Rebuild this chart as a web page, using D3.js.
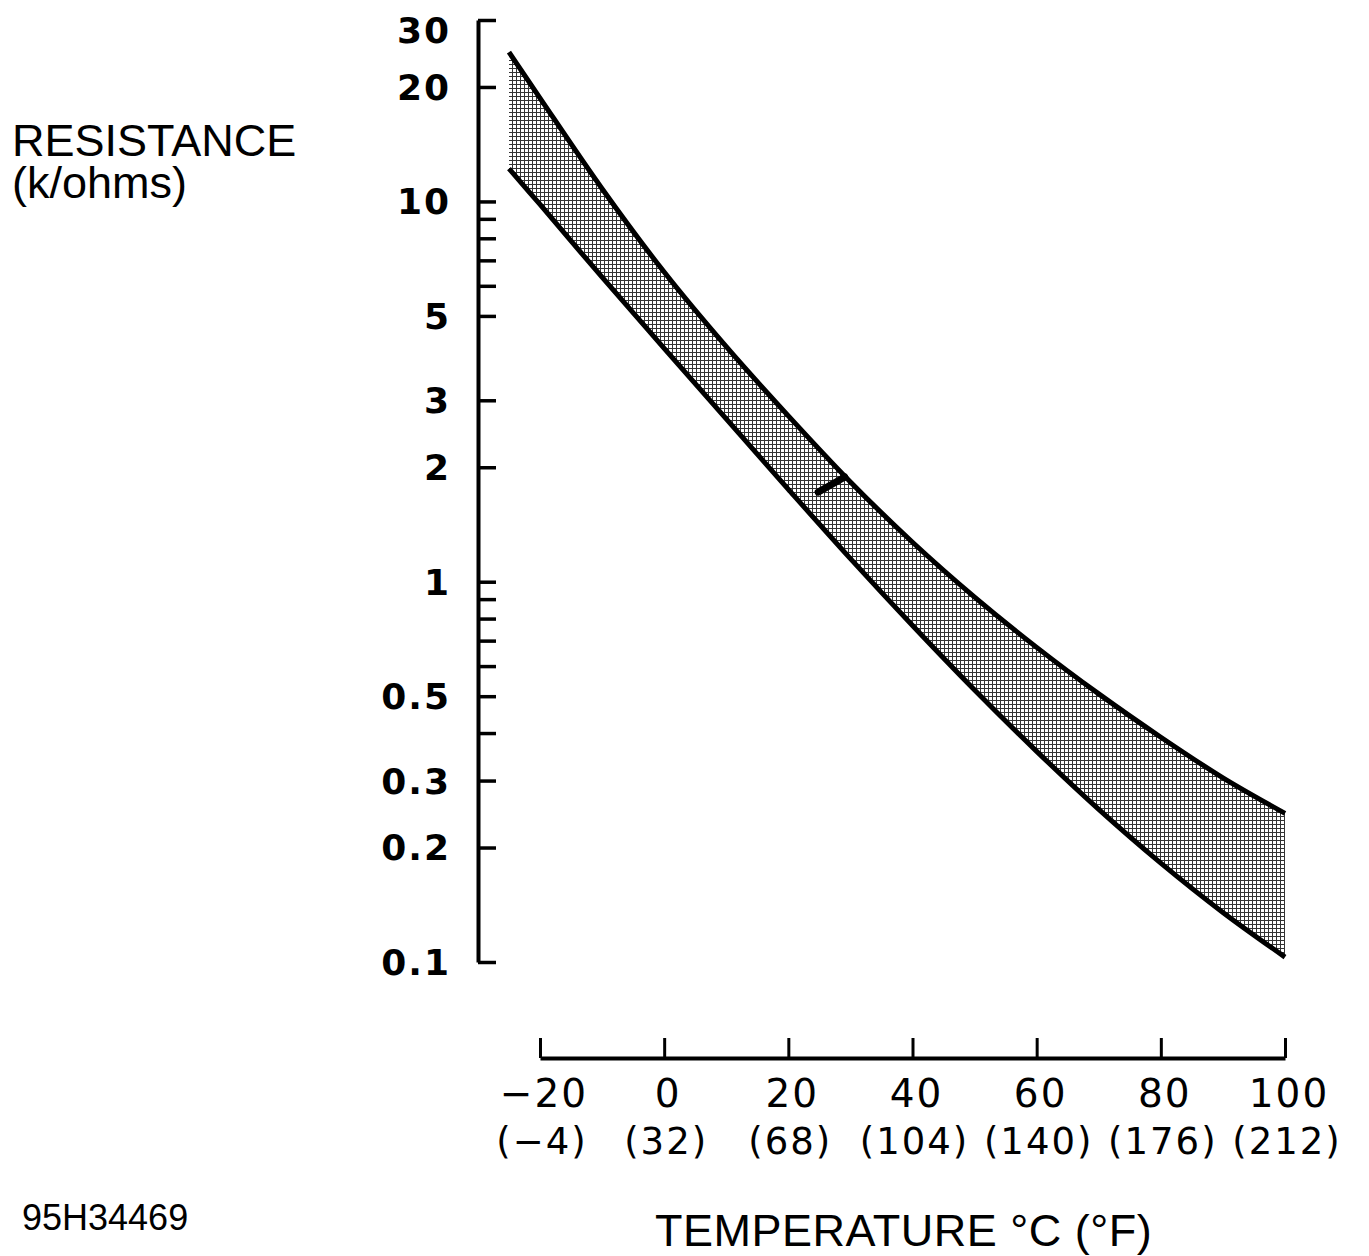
<!DOCTYPE html>
<html>
<head>
<meta charset="utf-8">
<script src="https://cdn.jsdelivr.net/npm/d3@7"></script>
<style>
  body { margin: 0; background: #fff; }
  svg { display: block; }
</style>
</head>
<body>
<div id="chart"></div>
<script>
// temperatures (deg C) where the band edges were read
let temps = [-25, -20, -10, 0, 10, 20, 30, 40, 50, 60, 70, 80, 90, 100];
// resistance in k/ohms, upper and lower limit
let upperRes = [24.7, 18.7, 10.8, 6.52, 4.15, 2.73, 1.83, 1.27, 0.911, 0.672, 0.507, 0.390, 0.305, 0.246];
let lowerRes = [12.2, 9.82, 6.32, 4.11, 2.68, 1.75, 1.15, 0.767, 0.519, 0.358, 0.252, 0.182, 0.135, 0.103];

let yMajor = [30, 20, 10, 5, 3, 2, 1, 0.5, 0.3, 0.2, 0.1];
let yMinor = [9, 8, 7, 6, 0.9, 0.8, 0.7, 0.6, 0.4];
let xTicks = [-20, 0, 20, 40, 60, 80, 100];
let xTicksF = ["(\u22124)", "(32)", "(68)", "(104)", "(140)", "(176)", "(212)"];

// little dash marked on the band
let markTemps = [24.8, 29.1];
let markRes = [1.72, 1.885];

var width = 1369, height = 1256;

var svg = d3.select("#chart")
    .append("svg")
    .attr("width", width)
    .attr("height", height);

var x = d3.scaleLinear()
    .domain([-20, 100])
    .range([540, 1285]);

var y = d3.scaleLog()
    .domain([0.1, 30])
    .range([962, 20]);

var band = temps.map((t, i) => ({ t: t, lo: lowerRes[i], hi: upperRes[i] }));

// halftone fill
var pat = svg.append("defs").append("pattern")
    .attr("id", "stipple")
    .attr("patternUnits", "userSpaceOnUse")
    .attr("width", 4)
    .attr("height", 4);
pat.append("rect").attr("width", 4).attr("height", 4).attr("fill", "#fff");
pat.append("rect").attr("width", 4).attr("height", 1).attr("fill", "#333");
pat.append("rect").attr("width", 1).attr("height", 4).attr("fill", "#333");

var area = d3.area()
    .x(d => x(d.t))
    .y0(d => y(d.lo))
    .y1(d => y(d.hi))
    .curve(d3.curveCatmullRom);

svg.append("path")
    .datum(band)
    .attr("d", area)
    .attr("fill", "url(#stipple)")
    .attr("shape-rendering", "crispEdges");

var lineHi = d3.line().x(d => x(d.t)).y(d => y(d.hi)).curve(d3.curveCatmullRom);
var lineLo = d3.line().x(d => x(d.t)).y(d => y(d.lo)).curve(d3.curveCatmullRom);

svg.append("path")
    .datum(band)
    .attr("d", lineHi)
    .attr("fill", "none")
    .attr("stroke", "#000")
    .attr("stroke-width", 5);

svg.append("path")
    .datum(band)
    .attr("d", lineLo)
    .attr("fill", "none")
    .attr("stroke", "#000")
    .attr("stroke-width", 5);

svg.append("line")
    .attr("x1", x(markTemps[0])).attr("y1", y(markRes[0]))
    .attr("x2", x(markTemps[1])).attr("y2", y(markRes[1]))
    .attr("stroke", "#000")
    .attr("stroke-width", 7)
    .attr("stroke-linecap", "round");

// y axis, ticks pointing right, labels on the left
var yAxis = svg.append("g")
    .attr("transform", "translate(478,0)")
    .call(d3.axisRight(y)
        .tickValues(yMajor.concat(yMinor))
        .tickSize(18)
        .tickSizeOuter(0)
        .tickFormat(""));
yAxis.select(".domain").attr("stroke-width", 4);
yAxis.selectAll(".tick line").attr("stroke-width", 3.5);

svg.selectAll("ylabels")
    .data(yMajor)
    .enter()
    .append("text")
    .attr("x", 451)
    .attr("y", d => y(d) + (d === 30 ? 10 : 0))
    .attr("dy", "0.36em")
    .attr("text-anchor", "end")
    .style("font-family", "'DejaVu Sans', sans-serif")
    .style("font-weight", "bold")
    .style("font-size", "36px")
    .style("letter-spacing", "2px")
    .text(d => d);

// x axis, ticks pointing up
var xAxis = svg.append("g")
    .attr("transform", "translate(0,1058)")
    .call(d3.axisTop(x)
        .tickValues(xTicks)
        .tickSize(20)
        .tickSizeOuter(0)
        .tickFormat(""));
xAxis.select(".domain").attr("stroke-width", 4);
xAxis.selectAll(".tick line").attr("stroke-width", 3);

svg.selectAll("xlabels")
    .data(xTicks)
    .enter()
    .append("text")
    .attr("x", d => x(d) + 4)
    .attr("y", 1107)
    .attr("text-anchor", "middle")
    .style("font-family", "'DejaVu Sans', sans-serif")
    .style("font-size", "39px")
    .style("letter-spacing", "2px")
    .text(d => d < 0 ? "\u2212" + Math.abs(d) : d);

svg.selectAll("xlabelsF")
    .data(xTicks)
    .enter()
    .append("text")
    .attr("x", (d, i) => x(d) + 2)
    .attr("y", 1154)
    .attr("text-anchor", "middle")
    .style("font-family", "'DejaVu Sans', sans-serif")
    .style("font-size", "37px")
    .style("letter-spacing", "2px")
    .text((d, i) => xTicksF[i]);

// titles
var title = svg.append("text")
    .attr("x", 12)
    .attr("y", 156)
    .style("font-family", "'Liberation Sans', Arial, sans-serif")
    .style("font-size", "45px");
title.append("tspan").attr("x", 12).text("RESISTANCE");
title.append("tspan").attr("x", 12).attr("dy", 42).text("(k/ohms)");

svg.append("text")
    .attr("x", 655)
    .attr("y", 1246)
    .style("font-family", "'Liberation Sans', Arial, sans-serif")
    .style("font-size", "45px")
    .style("letter-spacing", "0.5px")
    .text("TEMPERATURE \u00B0C (\u00B0F)");

svg.append("text")
    .attr("x", 22)
    .attr("y", 1230)
    .style("font-family", "'Liberation Sans', Arial, sans-serif")
    .style("font-size", "36px")
    .text("95H34469");
</script>
</body>
</html>
